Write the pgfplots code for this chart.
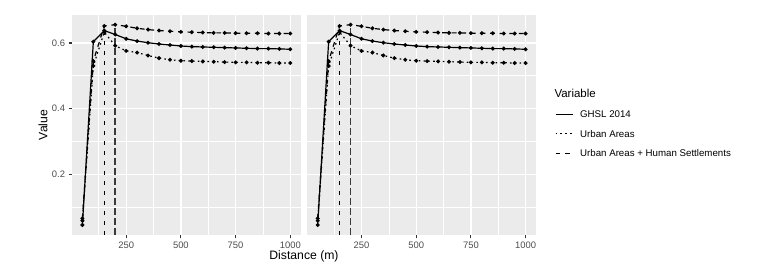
\documentclass[border=0pt]{standalone}
\usepackage{fontspec}
\setmainfont{Liberation Sans}
\usepackage{pgfplots}
\pgfplotsset{compat=1.18}
\usepackage{pgfplotstable}
\definecolor{ggbg}{HTML}{EBEBEB}
\definecolor{ggtxt}{HTML}{4D4D4D}
\definecolor{ggtick}{HTML}{333333}
\definecolor{vlinegray}{HTML}{3A3A3A}

\pgfplotstableread{
x ghsl ua uahs
50 0.045 0.058 0.065
100 0.604 0.530 0.545
150 0.638 0.633 0.652
200 0.626 0.592 0.656
250 0.613 0.576 0.651
300 0.606 0.571 0.645
350 0.601 0.562 0.641
400 0.597 0.554 0.638
450 0.594 0.549 0.636
500 0.591 0.546 0.634
550 0.589 0.545 0.633
600 0.588 0.544 0.632
650 0.587 0.543 0.631
700 0.586 0.542 0.631
750 0.585 0.541 0.630
800 0.584 0.541 0.630
850 0.583 0.540 0.630
900 0.583 0.540 0.629
950 0.582 0.539 0.629
1000 0.581 0.539 0.629
}\datatab

\pgfplotsset{
  ggpanel/.style={
    scale only axis, width=228.7pt, height=220pt,
    anchor=south west,
    xmin=2.5, xmax=1047.5, ymin=0.0145, ymax=0.6855,
    axis background/.style={fill=ggbg},
    axis line style={draw=none},
    grid=both,
    major grid style={white, line width=1.3pt},
    minor grid style={white, line width=0.65pt},
    xtick={250,500,750,1000}, xticklabels={250,500,750,1000},
    minor xtick={125,375,625,875},
    ytick={0.2,0.4,0.6}, minor ytick={0.1,0.3,0.5},
    tick align=outside, xtick pos=bottom, ytick pos=left,
    major tick length=3.4pt, minor tick length=0pt,
    tick style={ggtick, line width=1.1pt},
    ticklabel style={font=\fontsize{9.4}{11}\selectfont, text=ggtxt},
    clip=true,
  },
  ghslst/.style={black, line width=1.2pt, solid, mark=*, mark size=1.3pt, mark options={solid}},
  uast/.style={black, line width=1.2pt, dash pattern=on 1.6pt off 3.2pt, mark=*, mark size=1.3pt, mark options={solid}},
  uahsst/.style={black, line width=1.2pt, dash pattern=on 4.8pt off 4.8pt, mark=*, mark size=1.3pt, mark options={solid}},
  vshort/.style={black, line width=1.3pt, dash pattern=on 4pt off 6pt, forget plot},
  vlong/.style={vlinegray, line width=1.5pt, dash pattern=on 6.7pt off 3.3pt, forget plot},
}

\begin{document}
\begin{tikzpicture}
\path (0,0) rectangle (769pt,276pt);

\begin{axis}[ggpanel, at={(72pt,41pt)},
  yticklabels={0.2,0.4,0.6},
  ylabel={Value},
  every axis y label/.style={at={(axis description cs:-0.1268,0.5)}, rotate=90, anchor=center, font=\fontsize{12.2}{14}\selectfont},
]
\addplot[vshort] coordinates {(150,0.0145) (150,0.652)};
\addplot[vlong] coordinates {(200,0.0145) (200,0.656)};
\addplot[ghslst] table[x=x, y=ghsl] {\datatab};
\addplot[uast] table[x=x, y=ua] {\datatab};
\addplot[uahsst] table[x=x, y=uahs] {\datatab};
\end{axis}

\begin{axis}[ggpanel, at={(307.3pt,41pt)},
  yticklabels={}, ytick style={draw=none},
  legend cell align=left,
  legend image code/.code={\draw[#1] (0pt,0pt) -- (17pt,0pt);},
  legend style={at={(axis description cs:1.083,0.5645)}, anchor=north west,
    draw=none, fill=none, inner sep=0pt, outer sep=0pt,
    row sep=12.5pt, column sep=7pt,
    font=\fontsize{9.7}{11}\selectfont,
    nodes={inner sep=0pt, text height=7pt, text depth=0pt}},
]
\addplot[vshort] coordinates {(150,0.0145) (150,0.652)};
\addplot[vlong] coordinates {(200,0.0145) (200,0.656)};
\addplot[ghslst] table[x=x, y=ghsl] {\datatab};
\addlegendentry{GHSL 2014}
\addplot[uast] table[x=x, y=ua] {\datatab};
\addlegendentry{Urban Areas}
\addplot[uahsst] table[x=x, y=uahs] {\datatab};
\addlegendentry{Urban Areas + Human Settlements}
\end{axis}

\node[font=\fontsize{12.2}{14}\selectfont] at (304pt,20pt) {Distance (m)};
\node[font=\fontsize{11.5}{13}\selectfont, anchor=west, inner sep=0pt] at (554.3pt,182.7pt) {Variable};
\end{tikzpicture}
\end{document}
